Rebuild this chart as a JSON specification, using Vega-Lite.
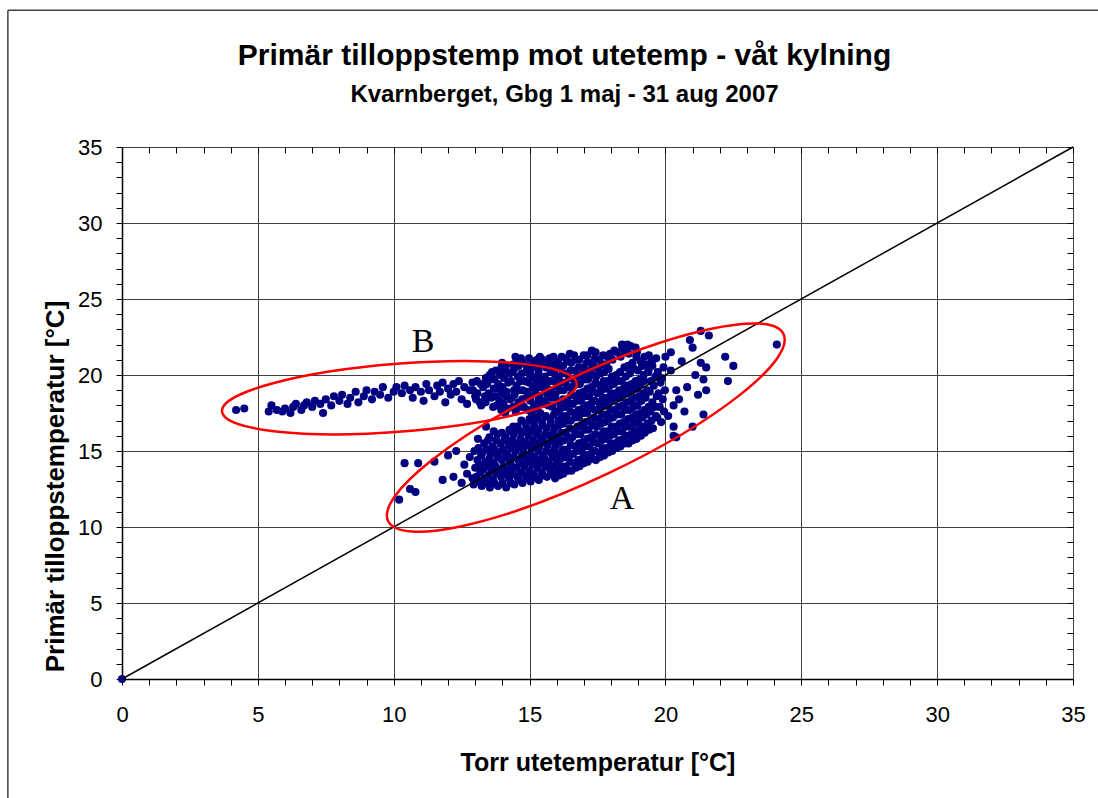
{
  "$schema": "https://vega.github.io/schema/vega-lite/v6.json",
  "width": 951,
  "height": 532,
  "autosize": {"type": "none"},
  "padding": {"left": 122, "top": 147, "right": 25, "bottom": 119},
  "background": "white",
  "title": {
    "text": "Primär tilloppstemp mot utetemp - våt kylning",
    "subtitle": "Kvarnberget, Gbg 1 maj - 31 aug 2007",
    "font": "Liberation Sans",
    "fontSize": 30,
    "fontWeight": "bold",
    "color": "black",
    "subtitleFont": "Liberation Sans",
    "subtitleFontSize": 24,
    "subtitleFontWeight": "bold",
    "subtitleColor": "black",
    "subtitlePadding": 12,
    "anchor": "middle",
    "frame": "group",
    "dx": -33,
    "offset": -98
  },
  "config": {"view": {"stroke": null}},
  "datasets": {
    "pts": [
      {"torr":0,"prim":0},
      {"torr":4.2,"prim":17.7},{"torr":4.5,"prim":17.8},{"torr":5.4,"prim":17.6},{"torr":5.5,"prim":18.0},{"torr":5.7,"prim":17.7},{"torr":5.9,"prim":17.6},{"torr":6.0,"prim":17.8},{"torr":6.2,"prim":17.5},{"torr":6.3,"prim":17.9},{"torr":6.4,"prim":18.1},{"torr":6.6,"prim":17.7},{"torr":6.7,"prim":18.0},{"torr":6.8,"prim":18.2},{"torr":7.0,"prim":17.9},{"torr":7.1,"prim":18.3},{"torr":7.3,"prim":18.1},{"torr":7.4,"prim":17.5},{"torr":7.5,"prim":18.4},{"torr":7.7,"prim":18.0},{"torr":7.8,"prim":18.6},{"torr":8.0,"prim":18.3},{"torr":8.1,"prim":18.7},{"torr":8.3,"prim":18.1},{"torr":8.4,"prim":18.5},{"torr":8.6,"prim":18.9},{"torr":8.7,"prim":18.2},{"torr":8.9,"prim":18.6},{"torr":9.0,"prim":19.0},{"torr":9.2,"prim":18.4},{"torr":9.3,"prim":18.9},{"torr":9.5,"prim":18.7},{"torr":9.6,"prim":19.2},{"torr":9.8,"prim":18.5},{"torr":10.0,"prim":18.9},{"torr":10.1,"prim":19.2},{"torr":10.3,"prim":18.8},{"torr":10.4,"prim":19.3},{"torr":10.6,"prim":19.0},{"torr":10.7,"prim":18.5},{"torr":10.8,"prim":19.2},{"torr":11.0,"prim":18.9},{"torr":11.1,"prim":18.3},{"torr":11.2,"prim":19.4},{"torr":11.3,"prim":19.0},{"torr":11.5,"prim":18.6},{"torr":11.6,"prim":19.3},{"torr":11.7,"prim":18.9},{"torr":11.8,"prim":19.5},{"torr":11.9,"prim":18.2},{"torr":12.0,"prim":19.1},{"torr":12.1,"prim":18.7},{"torr":12.2,"prim":19.4},{"torr":12.3,"prim":18.9},{"torr":12.4,"prim":19.6},{"torr":12.5,"prim":18.4},{"torr":12.6,"prim":19.2},{"torr":12.7,"prim":18.1},{"torr":12.8,"prim":19.0},{"torr":12.9,"prim":19.5},{"torr":13.0,"prim":18.6},
      {"torr":10.2,"prim":11.8},{"torr":10.6,"prim":12.5},{"torr":10.8,"prim":12.3},{"torr":10.4,"prim":14.2},{"torr":10.9,"prim":14.2},{"torr":11.5,"prim":14.3},{"torr":11.8,"prim":13.1},{"torr":12.0,"prim":14.7},{"torr":12.2,"prim":13.3},{"torr":12.3,"prim":15.0},{"torr":12.5,"prim":12.9},{"torr":12.6,"prim":14.1},{"torr":12.7,"prim":13.5},{"torr":12.8,"prim":14.6},{"torr":13.1,"prim":15.8},{"torr":13.4,"prim":16.6},{"torr":14.4,"prim":16.6},{"torr":12.9,"prim":13.2},
      {"torr":12.94,"prim":12.8},{"torr":13.05,"prim":13.3},{"torr":13.0,"prim":13.9},{"torr":13.08,"prim":14.4},{"torr":12.97,"prim":15.0},{"torr":13.03,"prim":18.4},{"torr":12.92,"prim":19.0},{"torr":13.06,"prim":19.6},
      {"torr":13.24,"prim":12.7},{"torr":13.35,"prim":13.2},{"torr":13.3,"prim":13.8},{"torr":13.38,"prim":14.3},{"torr":13.27,"prim":14.9},{"torr":13.33,"prim":15.5},{"torr":13.22,"prim":18.0},{"torr":13.36,"prim":18.6},{"torr":13.29,"prim":19.2},{"torr":13.39,"prim":19.8},
      {"torr":13.54,"prim":12.6},{"torr":13.65,"prim":13.1},{"torr":13.6,"prim":13.7},{"torr":13.68,"prim":14.2},{"torr":13.57,"prim":14.8},{"torr":13.63,"prim":15.3},{"torr":13.52,"prim":15.9},{"torr":13.66,"prim":17.9},{"torr":13.59,"prim":18.5},{"torr":13.69,"prim":19.1},{"torr":13.55,"prim":19.7},{"torr":13.62,"prim":20.2},
      {"torr":13.84,"prim":12.7},{"torr":13.95,"prim":13.3},{"torr":13.9,"prim":13.8},{"torr":13.98,"prim":14.4},{"torr":13.87,"prim":14.9},{"torr":13.93,"prim":15.5},{"torr":13.82,"prim":16.1},{"torr":13.96,"prim":17.7},{"torr":13.89,"prim":18.3},{"torr":13.99,"prim":18.8},{"torr":13.85,"prim":19.4},{"torr":13.92,"prim":20.0},{"torr":13.97,"prim":20.5},
      {"torr":14.14,"prim":12.6},{"torr":14.25,"prim":13.2},{"torr":14.2,"prim":13.7},{"torr":14.28,"prim":14.3},{"torr":14.17,"prim":14.8},{"torr":14.23,"prim":15.4},{"torr":14.12,"prim":15.9},{"torr":14.26,"prim":16.4},{"torr":14.19,"prim":17.8},{"torr":14.29,"prim":18.4},{"torr":14.15,"prim":18.9},{"torr":14.22,"prim":19.5},{"torr":14.27,"prim":20.1},{"torr":14.13,"prim":20.6},
      {"torr":14.44,"prim":12.8},{"torr":14.55,"prim":13.3},{"torr":14.5,"prim":13.9},{"torr":14.58,"prim":14.4},{"torr":14.47,"prim":15.0},{"torr":14.53,"prim":15.5},{"torr":14.42,"prim":16.1},{"torr":14.56,"prim":16.6},{"torr":14.49,"prim":17.6},{"torr":14.59,"prim":18.2},{"torr":14.45,"prim":18.7},{"torr":14.52,"prim":19.3},{"torr":14.57,"prim":19.9},{"torr":14.43,"prim":20.4},{"torr":14.54,"prim":20.9},{"torr":14.48,"prim":21.2},
      {"torr":14.74,"prim":12.9},{"torr":14.85,"prim":13.4},{"torr":14.8,"prim":14.0},{"torr":14.88,"prim":14.5},{"torr":14.77,"prim":15.1},{"torr":14.83,"prim":15.6},{"torr":14.72,"prim":16.2},{"torr":14.86,"prim":16.8},{"torr":14.79,"prim":17.9},{"torr":14.89,"prim":18.5},{"torr":14.75,"prim":19.0},{"torr":14.82,"prim":19.6},{"torr":14.87,"prim":20.2},{"torr":14.73,"prim":20.8},
      {"torr":15.04,"prim":13.0},{"torr":15.15,"prim":13.5},{"torr":15.1,"prim":14.1},{"torr":15.18,"prim":14.6},{"torr":15.07,"prim":15.2},{"torr":15.13,"prim":15.7},{"torr":15.02,"prim":16.3},{"torr":15.16,"prim":16.9},{"torr":15.09,"prim":17.4},{"torr":15.19,"prim":18.0},{"torr":15.05,"prim":18.6},{"torr":15.12,"prim":19.2},{"torr":15.17,"prim":19.8},{"torr":15.03,"prim":20.3},{"torr":15.14,"prim":20.9},
      {"torr":15.34,"prim":13.1},{"torr":15.45,"prim":13.6},{"torr":15.4,"prim":14.2},{"torr":15.48,"prim":14.7},{"torr":15.37,"prim":15.3},{"torr":15.43,"prim":15.8},{"torr":15.32,"prim":16.4},{"torr":15.46,"prim":16.9},{"torr":15.39,"prim":17.5},{"torr":15.49,"prim":18.1},{"torr":15.35,"prim":18.6},{"torr":15.42,"prim":19.2},{"torr":15.47,"prim":19.7},{"torr":15.33,"prim":20.3},{"torr":15.44,"prim":20.8},{"torr":15.38,"prim":21.2},
      {"torr":15.64,"prim":13.3},{"torr":15.75,"prim":13.8},{"torr":15.7,"prim":14.3},{"torr":15.78,"prim":14.9},{"torr":15.67,"prim":15.4},{"torr":15.73,"prim":16.0},{"torr":15.62,"prim":16.5},{"torr":15.76,"prim":17.1},{"torr":15.69,"prim":18.0},{"torr":15.79,"prim":18.5},{"torr":15.65,"prim":19.1},{"torr":15.72,"prim":19.6},{"torr":15.77,"prim":20.2},{"torr":15.63,"prim":20.7},{"torr":15.74,"prim":21.1},
      {"torr":15.94,"prim":13.2},{"torr":16.05,"prim":13.7},{"torr":16.0,"prim":14.3},{"torr":16.08,"prim":14.8},{"torr":15.97,"prim":15.4},{"torr":16.03,"prim":15.9},{"torr":15.92,"prim":16.5},{"torr":16.06,"prim":17.0},{"torr":15.99,"prim":17.6},{"torr":16.09,"prim":18.2},{"torr":15.95,"prim":18.7},{"torr":16.02,"prim":19.3},{"torr":16.07,"prim":19.8},{"torr":15.93,"prim":20.4},{"torr":16.04,"prim":20.9},
      {"torr":16.24,"prim":13.5},{"torr":16.35,"prim":14.0},{"torr":16.3,"prim":14.6},{"torr":16.38,"prim":15.1},{"torr":16.27,"prim":15.7},{"torr":16.33,"prim":16.2},{"torr":16.22,"prim":16.8},{"torr":16.36,"prim":17.3},{"torr":16.29,"prim":17.9},{"torr":16.39,"prim":18.4},{"torr":16.25,"prim":19.0},{"torr":16.32,"prim":19.5},{"torr":16.37,"prim":20.1},{"torr":16.23,"prim":20.6},{"torr":16.34,"prim":21.1},
      {"torr":16.54,"prim":13.7},{"torr":16.65,"prim":14.2},{"torr":16.6,"prim":14.8},{"torr":16.68,"prim":15.3},{"torr":16.57,"prim":15.9},{"torr":16.63,"prim":16.4},{"torr":16.52,"prim":17.0},{"torr":16.66,"prim":17.5},{"torr":16.59,"prim":18.1},{"torr":16.69,"prim":18.6},{"torr":16.55,"prim":19.2},{"torr":16.62,"prim":19.7},{"torr":16.67,"prim":20.3},{"torr":16.53,"prim":20.8},{"torr":16.64,"prim":21.3},
      {"torr":16.84,"prim":14.0},{"torr":16.95,"prim":14.5},{"torr":16.9,"prim":15.0},{"torr":16.98,"prim":15.6},{"torr":16.87,"prim":16.1},{"torr":16.93,"prim":16.7},{"torr":16.82,"prim":17.2},{"torr":16.96,"prim":17.8},{"torr":16.89,"prim":18.3},{"torr":16.99,"prim":18.9},{"torr":16.85,"prim":19.4},{"torr":16.92,"prim":20.0},{"torr":16.97,"prim":20.5},{"torr":16.83,"prim":21.0},
      {"torr":17.14,"prim":14.3},{"torr":17.25,"prim":14.8},{"torr":17.2,"prim":15.3},{"torr":17.28,"prim":15.9},{"torr":17.17,"prim":16.4},{"torr":17.23,"prim":17.0},{"torr":17.12,"prim":17.5},{"torr":17.26,"prim":18.1},{"torr":17.19,"prim":18.6},{"torr":17.29,"prim":19.2},{"torr":17.15,"prim":19.7},{"torr":17.22,"prim":20.3},{"torr":17.27,"prim":20.8},{"torr":17.13,"prim":21.3},
      {"torr":17.44,"prim":14.4},{"torr":17.55,"prim":14.9},{"torr":17.5,"prim":15.5},{"torr":17.58,"prim":16.0},{"torr":17.47,"prim":16.6},{"torr":17.53,"prim":17.1},{"torr":17.42,"prim":17.7},{"torr":17.56,"prim":18.2},{"torr":17.49,"prim":18.8},{"torr":17.59,"prim":19.3},{"torr":17.45,"prim":19.9},{"torr":17.52,"prim":20.4},{"torr":17.57,"prim":21.0},{"torr":17.43,"prim":21.5},
      {"torr":17.74,"prim":14.7},{"torr":17.85,"prim":15.2},{"torr":17.8,"prim":15.8},{"torr":17.88,"prim":16.3},{"torr":17.77,"prim":16.9},{"torr":17.83,"prim":17.4},{"torr":17.72,"prim":18.0},{"torr":17.86,"prim":18.5},{"torr":17.79,"prim":19.1},{"torr":17.89,"prim":19.6},{"torr":17.75,"prim":20.2},{"torr":17.82,"prim":20.7},{"torr":17.87,"prim":21.2},
      {"torr":18.04,"prim":15.0},{"torr":18.15,"prim":15.5},{"torr":18.1,"prim":16.1},{"torr":18.18,"prim":16.6},{"torr":18.07,"prim":17.2},{"torr":18.13,"prim":17.7},{"torr":18.02,"prim":18.3},{"torr":18.16,"prim":18.8},{"torr":18.09,"prim":19.4},{"torr":18.19,"prim":20.0},{"torr":18.05,"prim":21.0},{"torr":18.12,"prim":21.6},
      {"torr":18.34,"prim":15.3},{"torr":18.45,"prim":15.8},{"torr":18.4,"prim":16.3},{"torr":18.48,"prim":16.9},{"torr":18.37,"prim":17.4},{"torr":18.43,"prim":18.0},{"torr":18.32,"prim":18.5},{"torr":18.46,"prim":19.1},{"torr":18.39,"prim":19.6},{"torr":18.49,"prim":20.5},{"torr":18.35,"prim":21.2},{"torr":18.42,"prim":21.8},
      {"torr":18.64,"prim":15.5},{"torr":18.75,"prim":16.1},{"torr":18.7,"prim":16.6},{"torr":18.78,"prim":17.2},{"torr":18.67,"prim":17.7},{"torr":18.73,"prim":18.3},{"torr":18.62,"prim":18.8},{"torr":18.76,"prim":19.4},{"torr":18.69,"prim":20.1},{"torr":18.79,"prim":20.8},{"torr":18.65,"prim":21.4},{"torr":18.72,"prim":21.9},
      {"torr":18.94,"prim":15.8},{"torr":19.05,"prim":16.4},{"torr":19.0,"prim":16.9},{"torr":19.08,"prim":17.5},{"torr":18.97,"prim":18.0},{"torr":19.03,"prim":18.6},{"torr":18.92,"prim":19.1},{"torr":19.06,"prim":19.7},{"torr":18.99,"prim":20.3},{"torr":19.09,"prim":20.9},{"torr":18.95,"prim":21.5},
      {"torr":19.24,"prim":16.2},{"torr":19.35,"prim":16.8},{"torr":19.3,"prim":17.4},{"torr":19.38,"prim":17.9},{"torr":19.27,"prim":18.5},{"torr":19.33,"prim":19.0},{"torr":19.22,"prim":19.6},{"torr":19.36,"prim":20.2},{"torr":19.29,"prim":20.7},{"torr":19.39,"prim":21.3},
      {"torr":19.54,"prim":16.5},{"torr":19.65,"prim":17.3},{"torr":19.6,"prim":17.9},{"torr":19.68,"prim":18.6},{"torr":19.57,"prim":19.3},{"torr":19.63,"prim":19.9},{"torr":19.52,"prim":20.6},{"torr":19.66,"prim":21.1},
      {"torr":19.84,"prim":16.9},{"torr":19.95,"prim":17.6},{"torr":19.9,"prim":18.4},{"torr":19.98,"prim":19.0},{"torr":19.87,"prim":19.8},{"torr":19.93,"prim":20.5},
      {"torr":20.2,"prim":21.5},{"torr":20.9,"prim":22.3},{"torr":21.3,"prim":22.9},{"torr":21.6,"prim":22.6},{"torr":21.0,"prim":21.8},{"torr":22.2,"prim":21.2},{"torr":22.5,"prim":20.6},{"torr":22.3,"prim":19.6},{"torr":21.3,"prim":20.8},{"torr":21.5,"prim":20.5},{"torr":21.1,"prim":20.0},{"torr":21.4,"prim":19.7},{"torr":21.5,"prim":19.0},{"torr":21.2,"prim":18.7},{"torr":20.8,"prim":19.2},{"torr":20.5,"prim":18.4},{"torr":20.7,"prim":17.6},{"torr":20.4,"prim":19.0},{"torr":21.4,"prim":17.4},{"torr":20.3,"prim":16.6},{"torr":21.0,"prim":16.6},{"torr":20.4,"prim":15.9},{"torr":24.1,"prim":22.0},{"torr":20.2,"prim":20.3},{"torr":20.6,"prim":20.9},{"torr":20.1,"prim":17.3},{"torr":20.3,"prim":18.0},{"torr":18.6,"prim":22.0},{"torr":18.9,"prim":21.8},{"torr":20.0,"prim":21.2},{"torr":20.3,"prim":16.0},{"torr":18.4,"prim":22.0},
      {"torr":13.10,"prim":13.0},{"torr":13.19,"prim":13.6},{"torr":13.15,"prim":14.1},{"torr":13.22,"prim":14.7},{"torr":13.12,"prim":15.2},{"torr":13.17,"prim":18.2},{"torr":13.08,"prim":18.8},{"torr":13.20,"prim":19.4},
      {"torr":13.40,"prim":12.9},{"torr":13.49,"prim":13.4},{"torr":13.45,"prim":14.0},{"torr":13.52,"prim":14.5},{"torr":13.42,"prim":15.1},{"torr":13.47,"prim":15.7},{"torr":13.38,"prim":18.2},{"torr":13.50,"prim":18.8},{"torr":13.44,"prim":19.4},{"torr":13.53,"prim":20.0},
      {"torr":13.70,"prim":12.9},{"torr":13.79,"prim":13.5},{"torr":13.75,"prim":14.0},{"torr":13.82,"prim":14.6},{"torr":13.72,"prim":15.1},{"torr":13.77,"prim":15.7},{"torr":13.68,"prim":16.3},{"torr":13.80,"prim":18.0},{"torr":13.74,"prim":18.6},{"torr":13.83,"prim":19.1},{"torr":13.71,"prim":19.7},{"torr":13.76,"prim":20.3},
      {"torr":14.00,"prim":12.9},{"torr":14.09,"prim":13.5},{"torr":14.05,"prim":14.0},{"torr":14.12,"prim":14.6},{"torr":14.02,"prim":15.1},{"torr":14.07,"prim":15.7},{"torr":13.98,"prim":16.2},{"torr":14.10,"prim":17.5},{"torr":14.04,"prim":18.1},{"torr":14.13,"prim":18.6},{"torr":14.01,"prim":19.2},{"torr":14.06,"prim":19.8},{"torr":14.11,"prim":20.3},{"torr":13.99,"prim":20.8},
      {"torr":14.30,"prim":12.9},{"torr":14.39,"prim":13.5},{"torr":14.35,"prim":14.0},{"torr":14.42,"prim":14.6},{"torr":14.32,"prim":15.2},{"torr":14.37,"prim":15.7},{"torr":14.28,"prim":16.3},{"torr":14.40,"prim":17.9},{"torr":14.34,"prim":18.5},{"torr":14.43,"prim":19.0},{"torr":14.31,"prim":19.6},{"torr":14.36,"prim":20.2},{"torr":14.41,"prim":20.7},
      {"torr":14.60,"prim":13.1},{"torr":14.69,"prim":13.6},{"torr":14.65,"prim":14.2},{"torr":14.72,"prim":14.7},{"torr":14.62,"prim":15.3},{"torr":14.67,"prim":15.8},{"torr":14.58,"prim":16.4},{"torr":14.70,"prim":17.0},{"torr":14.64,"prim":17.9},{"torr":14.73,"prim":18.4},{"torr":14.61,"prim":19.0},{"torr":14.66,"prim":19.6},{"torr":14.71,"prim":20.1},{"torr":14.59,"prim":20.6},{"torr":14.68,"prim":21.1},
      {"torr":14.90,"prim":13.2},{"torr":14.99,"prim":13.7},{"torr":14.95,"prim":14.3},{"torr":15.02,"prim":14.8},{"torr":14.92,"prim":15.4},{"torr":14.97,"prim":16.0},{"torr":14.88,"prim":16.5},{"torr":15.00,"prim":17.1},{"torr":14.94,"prim":17.7},{"torr":15.03,"prim":18.3},{"torr":14.91,"prim":18.9},{"torr":14.96,"prim":19.5},{"torr":15.01,"prim":20.0},{"torr":14.89,"prim":20.6},{"torr":14.98,"prim":21.1},
      {"torr":15.20,"prim":13.3},{"torr":15.29,"prim":13.9},{"torr":15.25,"prim":14.4},{"torr":15.32,"prim":15.0},{"torr":15.22,"prim":15.5},{"torr":15.27,"prim":16.1},{"torr":15.18,"prim":16.6},{"torr":15.30,"prim":17.2},{"torr":15.24,"prim":17.8},{"torr":15.33,"prim":18.3},{"torr":15.21,"prim":18.9},{"torr":15.26,"prim":19.5},{"torr":15.31,"prim":20.0},{"torr":15.19,"prim":20.6},{"torr":15.28,"prim":21.0},
      {"torr":15.50,"prim":13.4},{"torr":15.59,"prim":14.0},{"torr":15.55,"prim":14.5},{"torr":15.62,"prim":15.0},{"torr":15.52,"prim":15.6},{"torr":15.57,"prim":16.1},{"torr":15.48,"prim":16.7},{"torr":15.60,"prim":17.3},{"torr":15.54,"prim":18.3},{"torr":15.63,"prim":18.8},{"torr":15.51,"prim":19.4},{"torr":15.56,"prim":19.9},{"torr":15.61,"prim":20.5},{"torr":15.49,"prim":21.0},
      {"torr":15.80,"prim":13.5},{"torr":15.89,"prim":14.0},{"torr":15.85,"prim":14.6},{"torr":15.92,"prim":15.1},{"torr":15.82,"prim":15.7},{"torr":15.87,"prim":16.2},{"torr":15.78,"prim":16.8},{"torr":15.90,"prim":17.4},{"torr":15.84,"prim":17.9},{"torr":15.93,"prim":18.5},{"torr":15.81,"prim":19.0},{"torr":15.86,"prim":19.6},{"torr":15.91,"prim":20.1},{"torr":15.79,"prim":20.7},{"torr":15.88,"prim":21.2},
      {"torr":16.10,"prim":13.4},{"torr":16.19,"prim":14.0},{"torr":16.15,"prim":14.5},{"torr":16.22,"prim":15.1},{"torr":16.12,"prim":15.6},{"torr":16.17,"prim":16.2},{"torr":16.08,"prim":16.7},{"torr":16.20,"prim":17.3},{"torr":16.14,"prim":17.8},{"torr":16.23,"prim":18.4},{"torr":16.11,"prim":19.0},{"torr":16.16,"prim":19.5},{"torr":16.21,"prim":20.1},{"torr":16.09,"prim":20.6},{"torr":16.18,"prim":21.2},
      {"torr":16.40,"prim":13.7},{"torr":16.49,"prim":14.3},{"torr":16.45,"prim":14.8},{"torr":16.52,"prim":15.4},{"torr":16.42,"prim":15.9},{"torr":16.47,"prim":16.5},{"torr":16.38,"prim":17.0},{"torr":16.50,"prim":17.6},{"torr":16.44,"prim":18.1},{"torr":16.53,"prim":18.7},{"torr":16.41,"prim":19.2},{"torr":16.46,"prim":19.8},{"torr":16.51,"prim":20.3},{"torr":16.39,"prim":20.9},{"torr":16.48,"prim":21.4},
      {"torr":16.70,"prim":13.9},{"torr":16.79,"prim":14.4},{"torr":16.75,"prim":15.0},{"torr":16.82,"prim":15.5},{"torr":16.72,"prim":16.1},{"torr":16.77,"prim":16.6},{"torr":16.68,"prim":17.2},{"torr":16.80,"prim":17.7},{"torr":16.74,"prim":18.3},{"torr":16.83,"prim":18.8},{"torr":16.71,"prim":19.4},{"torr":16.76,"prim":19.9},{"torr":16.81,"prim":20.5},{"torr":16.69,"prim":21.0},
      {"torr":17.00,"prim":14.2},{"torr":17.09,"prim":14.7},{"torr":17.05,"prim":15.3},{"torr":17.12,"prim":15.8},{"torr":17.02,"prim":16.4},{"torr":17.07,"prim":16.9},{"torr":16.98,"prim":17.5},{"torr":17.10,"prim":18.0},{"torr":17.04,"prim":18.6},{"torr":17.13,"prim":19.1},{"torr":17.01,"prim":19.7},{"torr":17.06,"prim":20.2},{"torr":17.11,"prim":20.8},{"torr":16.99,"prim":21.3},
      {"torr":17.30,"prim":14.5},{"torr":17.39,"prim":15.0},{"torr":17.35,"prim":15.6},{"torr":17.42,"prim":16.1},{"torr":17.32,"prim":16.7},{"torr":17.37,"prim":17.2},{"torr":17.28,"prim":17.8},{"torr":17.40,"prim":18.3},{"torr":17.34,"prim":18.9},{"torr":17.43,"prim":19.5},{"torr":17.31,"prim":20.0},{"torr":17.36,"prim":20.6},{"torr":17.41,"prim":21.1},{"torr":17.29,"prim":21.6},
      {"torr":17.60,"prim":14.6},{"torr":17.69,"prim":15.2},{"torr":17.65,"prim":15.7},{"torr":17.72,"prim":16.3},{"torr":17.62,"prim":16.8},{"torr":17.67,"prim":17.4},{"torr":17.58,"prim":17.9},{"torr":17.70,"prim":18.5},{"torr":17.64,"prim":19.0},{"torr":17.73,"prim":19.6},{"torr":17.61,"prim":20.1},{"torr":17.66,"prim":20.7},{"torr":17.71,"prim":21.3},
      {"torr":17.90,"prim":14.9},{"torr":17.99,"prim":15.5},{"torr":17.95,"prim":16.0},{"torr":18.02,"prim":16.6},{"torr":17.92,"prim":17.1},{"torr":17.97,"prim":17.7},{"torr":17.88,"prim":18.2},{"torr":18.00,"prim":18.8},{"torr":17.94,"prim":19.3},{"torr":18.03,"prim":19.9},{"torr":17.91,"prim":20.4},{"torr":17.96,"prim":21.4},
      {"torr":18.20,"prim":15.2},{"torr":18.29,"prim":15.7},{"torr":18.25,"prim":16.3},{"torr":18.32,"prim":16.8},{"torr":18.22,"prim":17.4},{"torr":18.27,"prim":17.9},{"torr":18.18,"prim":18.5},{"torr":18.30,"prim":19.0},{"torr":18.24,"prim":19.6},{"torr":18.33,"prim":20.2},{"torr":18.21,"prim":21.5},
      {"torr":18.50,"prim":15.5},{"torr":18.59,"prim":16.0},{"torr":18.55,"prim":16.6},{"torr":18.62,"prim":17.1},{"torr":18.52,"prim":17.7},{"torr":18.57,"prim":18.2},{"torr":18.48,"prim":18.8},{"torr":18.60,"prim":19.3},{"torr":18.54,"prim":19.9},{"torr":18.63,"prim":20.6},{"torr":18.51,"prim":21.6},
      {"torr":18.80,"prim":15.7},{"torr":18.89,"prim":16.3},{"torr":18.85,"prim":16.8},{"torr":18.92,"prim":17.4},{"torr":18.82,"prim":17.9},{"torr":18.87,"prim":18.5},{"torr":18.78,"prim":19.0},{"torr":18.90,"prim":19.6},{"torr":18.84,"prim":20.4},{"torr":18.93,"prim":21.2},
      {"torr":19.10,"prim":16.0},{"torr":19.19,"prim":16.6},{"torr":19.15,"prim":17.2},{"torr":19.22,"prim":17.7},{"torr":19.12,"prim":18.3},{"torr":19.17,"prim":18.8},{"torr":19.08,"prim":19.4},{"torr":19.20,"prim":20.0},{"torr":19.14,"prim":20.6},{"torr":19.23,"prim":21.2},
      {"torr":19.40,"prim":16.4},{"torr":19.49,"prim":17.0},{"torr":19.45,"prim":17.6},{"torr":19.52,"prim":18.2},{"torr":19.42,"prim":18.9},{"torr":19.47,"prim":19.6},{"torr":19.38,"prim":20.3},{"torr":19.50,"prim":20.9},
      {"torr":19.70,"prim":17.2},{"torr":19.79,"prim":17.9},{"torr":19.75,"prim":18.8},{"torr":19.82,"prim":19.5},{"torr":19.72,"prim":20.2}
    ]
  },
  "layer": [
    {
      "data": {"values": [{}]},
      "mark": {"type": "rule", "color": "#404040", "strokeWidth": 1.5},
      "encoding": {
        "x": {"datum": -4.2, "type": "quantitative", "scale": {"domain": [0, 35], "nice": false}, "axis": null},
        "y": {"datum": -15, "type": "quantitative", "scale": {"domain": [0, 35], "nice": false}, "axis": null},
        "y2": {"datum": 44}
      }
    },
    {
      "data": {"values": [{}]},
      "mark": {"type": "rule", "color": "#404040", "strokeWidth": 1.5},
      "encoding": {
        "x": {"datum": -4.2, "type": "quantitative", "scale": {"domain": [0, 35], "nice": false}, "axis": null},
        "x2": {"datum": 40},
        "y": {"datum": 44, "type": "quantitative", "scale": {"domain": [0, 35], "nice": false}, "axis": null}
      }
    },
    {
      "data": {"name": "pts"},
      "mark": {"type": "point", "filled": true, "color": "#000080", "size": 66, "opacity": 1},
      "encoding": {
        "x": {
          "field": "torr", "type": "quantitative",
          "scale": {"domain": [0, 35], "nice": false},
          "axis": {
            "values": [0,1,2,3,4,5,6,7,8,9,10,11,12,13,14,15,16,17,18,19,20,21,22,23,24,25,26,27,28,29,30,31,32,33,34,35],
            "labelExpr": "datum.value % 5 === 0 ? datum.label : ''",
            "labelFont": "Liberation Sans", "labelFontSize": 22, "labelColor": "black", "labelPadding": 19,
            "labelOverlap": false, "labelFlush": false,
            "tickSize": 6, "tickColor": "black", "tickWidth": 1,
            "domainColor": "black", "domainWidth": 1.5,
            "grid": true, "gridColor": "#404040", "gridWidth": 1,
            "gridOpacity": {"condition": {"test": "datum.value % 5 === 0 && datum.value > 0", "value": 1}, "value": 0},
            "title": "Torr utetemperatur [°C]",
            "titleFont": "Liberation Sans", "titleFontSize": 25, "titleFontWeight": "bold", "titleColor": "black",
            "titleBaseline": "alphabetic", "titleY": 91
          }
        },
        "y": {
          "field": "prim", "type": "quantitative",
          "scale": {"domain": [0, 35], "nice": false},
          "axis": {
            "values": [0,1,2,3,4,5,6,7,8,9,10,11,12,13,14,15,16,17,18,19,20,21,22,23,24,25,26,27,28,29,30,31,32,33,34,35],
            "labelExpr": "datum.value % 5 === 0 ? datum.label : ''",
            "labelFont": "Liberation Sans", "labelFontSize": 22, "labelColor": "black", "labelPadding": 14,
            "labelOverlap": false, "labelFlush": false,
            "tickSize": 6, "tickColor": "black", "tickWidth": 1,
            "domainColor": "black", "domainWidth": 1.5,
            "grid": true, "gridColor": "#404040", "gridWidth": 1,
            "gridOpacity": {"condition": {"test": "datum.value % 5 === 0 && datum.value > 0", "value": 1}, "value": 0},
            "title": "Primär tilloppstemperatur [°C]",
            "titleFont": "Liberation Sans", "titleFontSize": 26, "titleFontWeight": "bold", "titleColor": "black",
            "titleAngle": -90, "titleAlign": "center", "titleBaseline": "middle",
            "titleX": -67, "titleY": 339
          }
        }
      }
    },
    {
      "data": {"values": [{"torr": 0, "prim": 0}, {"torr": 35, "prim": 35}]},
      "mark": {"type": "line", "color": "black", "strokeWidth": 1.5},
      "encoding": {
        "x": {
          "field": "torr", "type": "quantitative", "scale": {"domain": [0, 35], "nice": false},
          "axis": {"values": [0,1,2,3,4,5,6,7,8,9,10,11,12,13,14,15,16,17,18,19,20,21,22,23,24,25,26,27,28,29,30,31,32,33,34,35],
                   "tickSize": -6, "tickColor": "black", "tickWidth": 1, "labels": false, "domain": false, "grid": false, "title": null}
        },
        "y": {
          "field": "prim", "type": "quantitative", "scale": {"domain": [0, 35], "nice": false},
          "axis": {"values": [0,1,2,3,4,5,6,7,8,9,10,11,12,13,14,15,16,17,18,19,20,21,22,23,24,25,26,27,28,29,30,31,32,33,34,35],
                   "tickSize": -6, "tickColor": "black", "tickWidth": 1, "labels": false, "domain": false, "grid": false, "title": null}
        }
      }
    },
    {
      "data": {"values": [{"ellips": "A", "torr": 17.07, "prim": 16.54}]},
      "mark": {
        "type": "point", "filled": false, "color": "#ff0000", "strokeWidth": 2.5, "opacity": 1,
        "size": 191319,
        "shape": "M0.90408,-0.42736A1,0.2332,-25.3,0,1,-0.90408,0.42736A1,0.2332,-25.3,0,1,0.90408,-0.42736Z"
      },
      "encoding": {
        "x": {"field": "torr", "type": "quantitative", "scale": {"domain": [0, 35], "nice": false}, "axis": null},
        "y": {"field": "prim", "type": "quantitative", "scale": {"domain": [0, 35], "nice": false}, "axis": null}
      }
    },
    {
      "data": {"values": [{"ellips": "B", "torr": 10.21, "prim": 18.51}]},
      "mark": {
        "type": "point", "filled": false, "color": "#ff0000", "strokeWidth": 2.5, "opacity": 1,
        "size": 126736,
        "shape": "M0.99696,-0.07794A1,0.191,-4.47,0,1,-0.99696,0.07794A1,0.191,-4.47,0,1,0.99696,-0.07794Z"
      },
      "encoding": {
        "x": {"field": "torr", "type": "quantitative", "scale": {"domain": [0, 35], "nice": false}, "axis": null},
        "y": {"field": "prim", "type": "quantitative", "scale": {"domain": [0, 35], "nice": false}, "axis": null}
      }
    },
    {
      "data": {"values": [{"etikett": "B", "torr": 11.08, "prim": 22.2}, {"etikett": "A", "torr": 18.4, "prim": 11.85}]},
      "mark": {"type": "text", "font": "Liberation Serif", "fontSize": 34, "color": "black", "align": "center", "baseline": "middle"},
      "encoding": {
        "x": {"field": "torr", "type": "quantitative", "scale": {"domain": [0, 35], "nice": false}, "axis": null},
        "y": {"field": "prim", "type": "quantitative", "scale": {"domain": [0, 35], "nice": false}, "axis": null},
        "text": {"field": "etikett"}
      }
    }
  ],
  "resolve": {"axis": {"x": "independent", "y": "independent"}}
}
